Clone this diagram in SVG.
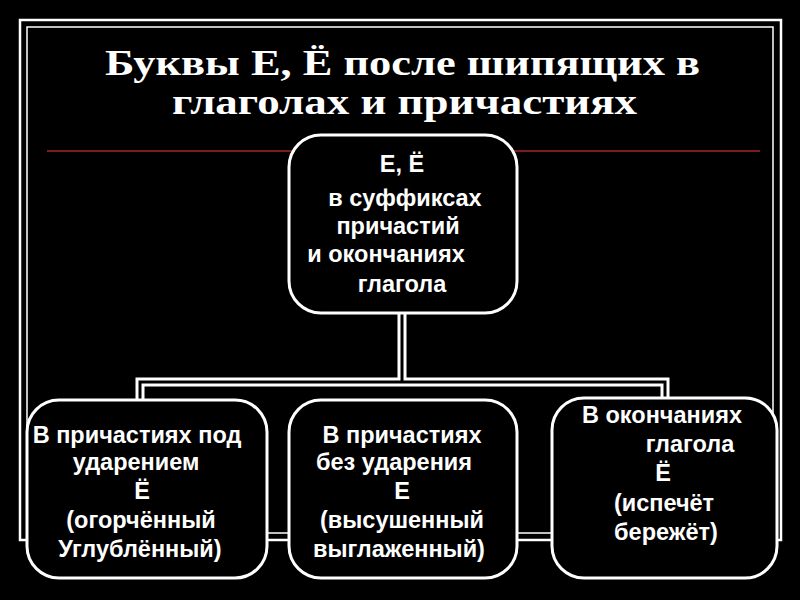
<svg xmlns="http://www.w3.org/2000/svg" width="800" height="600" viewBox="0 0 800 600">
<style>
.box{fill:#000;stroke:#fff;stroke-width:3}
.t{font-family:"Liberation Sans",Arial,sans-serif;font-weight:bold;font-size:23.5px;fill:#fff;text-anchor:middle}
.c1{fill:none;stroke:#fff;stroke-width:9}
.c2{fill:none;stroke:#000;stroke-width:3}
.h{font-family:"Liberation Serif","Times New Roman",serif;font-weight:bold;font-size:35px;fill:#fff}
</style>
<rect width="800" height="600" fill="#000"/>
<rect x="20" y="20" width="761" height="520" fill="none" stroke="#fff" stroke-width="2.5"/>
<rect x="27" y="27" width="746" height="506" fill="none" stroke="#fff" stroke-width="1.5"/>
<line x1="47" y1="151" x2="760" y2="151" stroke="#7a1c1c" stroke-width="2"/>
<text class="h" x="105" y="75" textLength="595" lengthAdjust="spacingAndGlyphs">Буквы Е, Ё после шипящих в</text>
<text class="h" x="172" y="114" textLength="465" lengthAdjust="spacingAndGlyphs">глаголах и причастиях</text>
<g id="connectors">
<path class="c1" d="M402 313V382M140 400V382H665V400"/>
<path class="c2" d="M402 313V382M140 400V382H665V400"/>
</g>
<g id="n0"><rect class="box" x="289" y="135" width="228" height="178" rx="32"/>
<text class="t"><tspan x="402" y="172">Е, Ё</tspan><tspan x="405" y="206">в суффиксах</tspan><tspan x="398" y="234">причастий</tspan><tspan x="386" y="262">и окончаниях</tspan><tspan x="402" y="292">глагола</tspan></text></g>
<g id="n1"><rect class="box" x="27" y="400" width="240" height="178" rx="32"/>
<text class="t"><tspan x="137" y="443">В причастиях под</tspan><tspan x="136" y="470">ударением</tspan><tspan x="142" y="499">Ё</tspan><tspan x="141" y="528">(огорчённый</tspan><tspan x="140" y="557">Углублённый)</tspan></text></g>
<g id="n2"><rect class="box" x="289" y="400" width="228" height="178" rx="32"/>
<text class="t"><tspan x="402" y="443">В причастиях</tspan><tspan x="394" y="470">без ударения</tspan><tspan x="402" y="499">Е</tspan><tspan x="402" y="528">(высушенный</tspan><tspan x="399" y="557">выглаженный)</tspan></text></g>
<g id="n3"><rect class="box" x="552" y="398" width="225" height="180" rx="32"/>
<text class="t"><tspan x="662" y="423">В окончаниях</tspan><tspan x="690" y="452">глагола</tspan><tspan x="663" y="481">Ё</tspan><tspan x="664" y="511">(испечёт</tspan><tspan x="666" y="540">бережёт)</tspan></text></g>
</svg>
